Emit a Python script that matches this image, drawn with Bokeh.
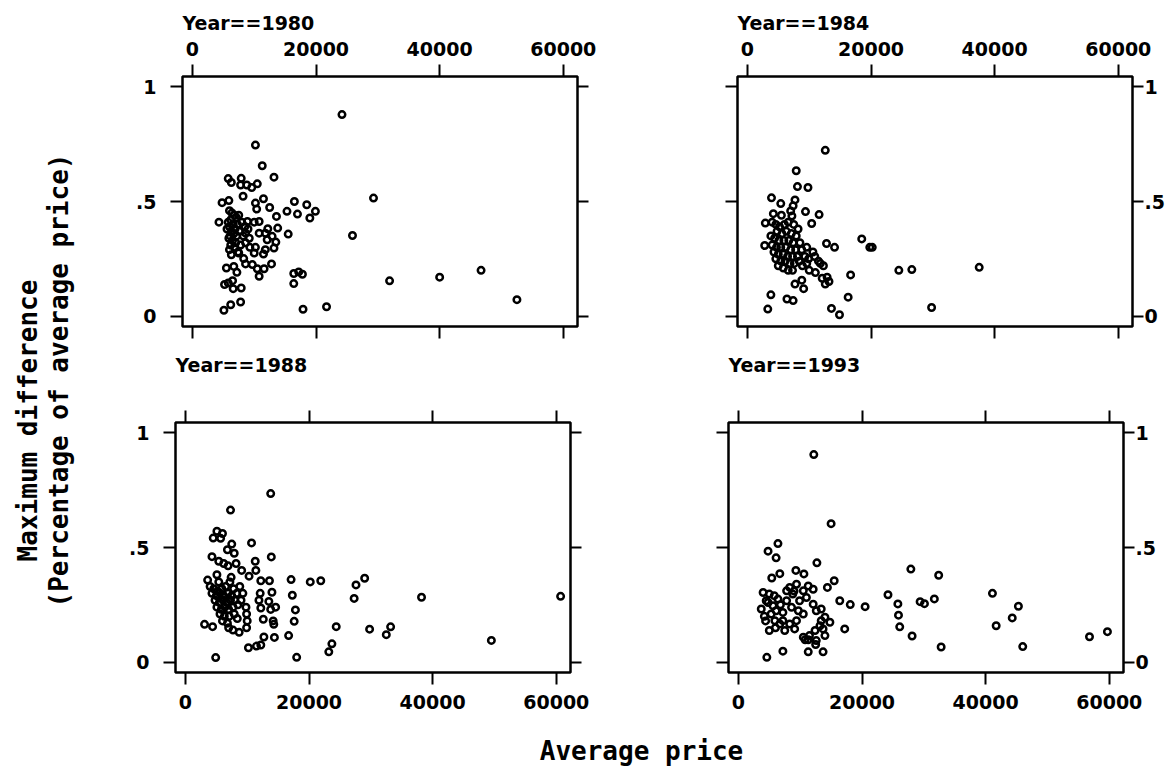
import math
from bokeh.plotting import figure
from bokeh.models import Range1d, LinearAxis, FixedTicker, Label
from bokeh.layouts import row, column
from bokeh.embed import file_html
from bokeh.resources import INLINE

# ---------------- data ----------------
x_ticks = [0, 20000, 40000, 60000]
x_tick_labels = ["0", "20000", "40000", "60000"]
y_ticks = [0, 0.5, 1]
y_tick_labels = ["0", ".5", "1"]
panel_titles = ["Year==1980", "Year==1984", "Year==1988", "Year==1993"]
y_title_lines = ["Maximum difference", "(Percentage of average price)"]
x_title = "Average price"

price_1980 = [24200, 10200, 11300, 13200, 5800, 6300, 7900, 7800, 8800, 9600,
              10500, 8200, 4800, 5900, 11500, 10200, 10400, 12500, 13600, 16500,
              18500, 15300, 17000, 19000, 19900, 29300, 4300, 8900, 10000, 10800,
              8500, 8600, 12200, 13800, 10800, 11800, 12900, 15500, 25900, 12100,
              13500, 13200, 11800, 10200, 9300, 11500, 10000, 6300, 7500, 8300,
              9700, 8600, 12800, 11600, 10500, 10800, 5500, 6700, 7200, 16400,
              17200, 17800, 16400, 5200, 5800, 6500, 6600, 7900, 31900, 40000,
              46700, 52500, 7800, 6200, 5100, 17900, 21700,
              6000, 6400, 6800, 7100, 6200, 5800, 6600, 7300, 6000, 6900,
              5600, 6300, 7600, 6700, 6100, 7200, 5900, 6500, 7000, 6200,
              7800, 6800, 6000, 7400, 8000, 8200, 7500, 8600, 9000, 9200]
maxdiff_1980 = [0.879, 0.746, 0.656, 0.606, 0.600, 0.583, 0.601, 0.572, 0.572, 0.561,
                0.577, 0.523, 0.495, 0.504, 0.512, 0.493, 0.467, 0.474, 0.435, 0.500,
                0.486, 0.457, 0.445, 0.428, 0.457, 0.515, 0.410, 0.413, 0.410, 0.413,
                0.391, 0.362, 0.381, 0.384, 0.362, 0.362, 0.348, 0.358, 0.352, 0.333,
                0.323, 0.297, 0.290, 0.300, 0.300, 0.271, 0.275, 0.268, 0.275, 0.251,
                0.225, 0.228, 0.228, 0.207, 0.207, 0.174, 0.210, 0.217, 0.191, 0.186,
                0.193, 0.183, 0.142, 0.138, 0.145, 0.155, 0.120, 0.123, 0.154, 0.170,
                0.200, 0.072, 0.062, 0.050, 0.026, 0.030, 0.041,
                0.46, 0.45, 0.44, 0.43, 0.42, 0.41, 0.40, 0.40, 0.39, 0.38,
                0.38, 0.37, 0.37, 0.36, 0.35, 0.35, 0.34, 0.33, 0.32, 0.31,
                0.31, 0.30, 0.29, 0.28, 0.41, 0.35, 0.44, 0.32, 0.38, 0.34]

price_1984 = [12600, 7900, 8100, 9800, 3900, 5400, 7700, 7400, 7000, 9400,
              11600, 10400, 4200, 2900, 5500, 7200, 2800, 12800, 14100, 18500,
              20200, 19800, 24500, 26600, 37500, 16700, 16300, 13600, 14900, 29800,
              3800, 6400, 7400, 3300, 7700, 9100, 8800, 13200, 11800, 12100,
              11500, 12300, 10600, 9900, 10900, 8900, 10000, 11000, 12600, 12900,
              4000, 4600, 5200, 6000, 6600, 7500, 8200, 4800, 5600, 6300,
              7100, 7900, 3800, 4400, 5100, 5900, 6700, 7400, 8500, 4000,
              4700, 5400, 6200, 7000, 7800, 8800, 9600, 4300, 5000, 5800,
              6500, 7300, 8100, 4600, 5400, 6100, 6900, 7600, 8400, 5000,
              5800, 6600, 7300, 9300, 9600]
maxdiff_1984 = [0.723, 0.634, 0.565, 0.561, 0.516, 0.491, 0.507, 0.481, 0.459, 0.456,
                0.443, 0.404, 0.447, 0.406, 0.440, 0.437, 0.308, 0.317, 0.300, 0.337,
                0.300, 0.300, 0.200, 0.203, 0.213, 0.180, 0.083, 0.034, 0.006, 0.038,
                0.093, 0.075, 0.068, 0.031, 0.140, 0.120, 0.157, 0.151, 0.230, 0.165,
                0.240, 0.220, 0.280, 0.250, 0.260, 0.220, 0.200, 0.190, 0.140, 0.170,
                0.41, 0.40, 0.39, 0.40, 0.41, 0.40, 0.38, 0.37, 0.36, 0.37,
                0.36, 0.35, 0.35, 0.34, 0.33, 0.33, 0.33, 0.32, 0.32, 0.31,
                0.30, 0.30, 0.30, 0.29, 0.29, 0.29, 0.30, 0.28, 0.27, 0.27,
                0.26, 0.26, 0.26, 0.25, 0.24, 0.24, 0.23, 0.23, 0.24, 0.22,
                0.21, 0.20, 0.20, 0.26, 0.23]

price_1988 = [13800, 7300, 5100, 6000, 4500, 5700, 10700, 7500, 6800, 7900,
              4300, 5400, 6200, 13900, 11300, 8200, 6900, 9100, 11400, 10300,
              3600, 5100, 5400, 7400, 7200, 8800, 12200, 13600, 17100, 20200,
              21900, 14000, 17300, 27600, 29000, 27300, 38200, 60700, 12100, 11900,
              13500, 14600, 13800, 12200, 17800, 17600, 9800, 9900, 10000, 9900,
              14200, 14300, 12600, 24400, 3100, 4400, 7000, 7700, 8700, 14400,
              16700, 12700, 12200, 11500, 10200, 23700, 23200, 4900, 18000, 29800,
              33200, 32500, 49500,
              4000, 4600, 5200, 5900, 6500, 7800, 4300, 5000, 5600, 6200,
              6900, 7500, 8300, 4800, 5500, 6100, 6700, 7300, 8000, 5100,
              5800, 6400, 7000, 7700, 8500, 5600, 6300, 7100, 7900, 6000,
              6800, 8400, 9000, 9300]
maxdiff_1988 = [0.735, 0.663, 0.571, 0.561, 0.541, 0.540, 0.520, 0.515, 0.490, 0.475,
                0.460, 0.440, 0.430, 0.459, 0.440, 0.430, 0.420, 0.400, 0.400, 0.375,
                0.358, 0.381, 0.350, 0.370, 0.350, 0.330, 0.355, 0.355, 0.360, 0.350,
                0.355, 0.305, 0.292, 0.337, 0.366, 0.278, 0.283, 0.287, 0.300, 0.270,
                0.265, 0.240, 0.230, 0.236, 0.228, 0.178, 0.240, 0.210, 0.180, 0.150,
                0.180, 0.165, 0.187, 0.155, 0.165, 0.155, 0.150, 0.140, 0.130, 0.108,
                0.116, 0.110, 0.075, 0.070, 0.063, 0.080, 0.045, 0.020, 0.021, 0.144,
                0.154, 0.120, 0.095,
                0.33, 0.32, 0.31, 0.32, 0.33, 0.32, 0.30, 0.29, 0.30, 0.29,
                0.30, 0.29, 0.30, 0.27, 0.26, 0.27, 0.26, 0.27, 0.27, 0.24,
                0.23, 0.24, 0.23, 0.24, 0.25, 0.21, 0.20, 0.20, 0.21, 0.18,
                0.17, 0.19, 0.27, 0.30]

price_1993 = [12200, 15000, 6400, 4800, 6100, 12700, 9300, 10600, 27900, 32400,
              15500, 14400, 6700, 5400, 41100, 16400, 18100, 20500, 24200, 25800,
              29400, 30100, 31700, 45300, 25900, 44300, 41700, 46000, 56800, 59700,
              32800, 28100, 26100, 17200, 4600, 7200, 11300, 13700, 11300, 12500,
              10800,
              4000, 4500, 3700, 5000, 5300, 5900, 6700, 8300, 9400, 10500,
              11000, 7800, 8600, 9700, 10500, 9100, 7500, 12600, 13400, 14000,
              14800, 13200, 13700, 12400, 11500, 14000, 10500, 5000, 6100, 7200,
              12100, 4800, 6400, 5600, 8800, 9900, 11300, 12100, 7800, 7200,
              8300, 9400, 12600, 13400, 4200, 5800, 6800, 4400, 6000, 9000]
maxdiff_1993 = [0.905, 0.604, 0.517, 0.484, 0.455, 0.433, 0.400, 0.385, 0.406, 0.379,
                0.355, 0.326, 0.386, 0.367, 0.300, 0.268, 0.251, 0.242, 0.294, 0.254,
                0.264, 0.255, 0.276, 0.244, 0.205, 0.193, 0.159, 0.068, 0.111, 0.133,
                0.066, 0.114, 0.154, 0.145, 0.021, 0.048, 0.045, 0.045, 0.098, 0.077,
                0.098,
                0.304, 0.268, 0.232, 0.297, 0.210, 0.181, 0.167, 0.326, 0.340, 0.311,
                0.282, 0.268, 0.239, 0.224, 0.210, 0.145, 0.138, 0.224, 0.232, 0.196,
                0.174, 0.159, 0.145, 0.138, 0.116, 0.116, 0.109, 0.138, 0.224, 0.217,
                0.253, 0.260, 0.275, 0.246, 0.297, 0.268, 0.332, 0.318, 0.311, 0.181,
                0.167, 0.181, 0.094, 0.181, 0.200, 0.290, 0.250, 0.180, 0.150, 0.310]

panel_data = [(price_1980, maxdiff_1980), (price_1984, maxdiff_1984),
              (price_1988, maxdiff_1988), (price_1993, maxdiff_1993)]

TICK_FONT = "DejaVu Sans"
TICK_SIZE = "19px"
TITLE_FONT = "DejaVu Sans Mono"
X_RANGE = (-1600, 62300)
Y_RANGE = (-0.045, 1.045)


def make_axis(ticks, labels, mode, tick_out=12, standoff=6):
    """mode: 'show' visible labels; 'space' blank labels that keep their room;
    'none' no labels and no room."""
    ax = LinearAxis(ticker=FixedTicker(ticks=ticks))
    ax.axis_line_color = None
    ax.major_tick_line_color = "black"
    ax.major_tick_line_width = 2
    ax.major_tick_out = tick_out
    ax.major_tick_in = 0
    ax.minor_tick_line_color = None
    ax.major_label_text_font = TICK_FONT
    ax.major_label_text_font_style = "bold"
    ax.major_label_text_color = "black"
    if mode == "show":
        ax.major_label_overrides = dict(zip(ticks, labels))
        ax.major_label_text_font_size = TICK_SIZE
        ax.major_label_standoff = standoff
    elif mode == "space":
        ax.major_label_overrides = {t: " " for t in ticks}
        ax.major_label_text_font_size = TICK_SIZE
        ax.major_label_standoff = standoff
    else:
        ax.major_label_overrides = {t: "" for t in ticks}
        ax.major_label_text_font_size = "0px"
        ax.major_label_standoff = 0
    return ax


def make_panel(xs, ys, title, top, top_standoff, bottom, left, right, mb):
    p = figure(frame_width=395, frame_height=250,
               x_range=Range1d(*X_RANGE), y_range=Range1d(*Y_RANGE),
               x_axis_location=None, y_axis_location=None,
               toolbar_location=None, output_backend="svg",
               title=title, title_location="above",
               min_border_left=mb[0], min_border_right=mb[1],
               min_border_top=mb[2], min_border_bottom=mb[3])
    for g in p.grid:
        g.visible = False
    p.outline_line_color = "black"
    p.outline_line_width = 2.5
    p.background_fill_color = "white"
    p.border_fill_color = "white"

    p.title.align = "left"
    p.title.standoff = 10
    p.title.offset = 0
    p.title.text_font = TICK_FONT
    p.title.text_font_style = "bold"
    p.title.text_font_size = TICK_SIZE
    p.title.text_color = "black"

    p.add_layout(make_axis(x_ticks, x_tick_labels, top, standoff=top_standoff), "above")
    p.add_layout(make_axis(x_ticks, x_tick_labels, bottom, standoff=10), "below")
    p.add_layout(make_axis(y_ticks, y_tick_labels, left, standoff=14), "left")
    p.add_layout(make_axis(y_ticks, y_tick_labels, right, tick_out=11, standoff=1), "right")

    p.scatter(x=xs, y=ys, marker="circle", size=6.5, line_width=2.5,
              line_color="black", fill_color=None)
    return p


#                                                 top   stoff bottom  left    right   (left right top bottom)
p1 = make_panel(*panel_data[0], panel_titles[0], "show", 9, "none", "show", "none", (64, 38, 76, 19))
p2 = make_panel(*panel_data[1], panel_titles[1], "show", 9, "none", "none", "show", (122, 36, 76, 19))
p3 = make_panel(*panel_data[2], panel_titles[2], "space", 5, "show", "show", "none", (57, 40, 77, 50))
p4 = make_panel(*panel_data[3], panel_titles[3], "space", 5, "show", "none", "show", (118, 45, 77, 50))

# y-axis title strip (x 0..118, y 0..773)
ylab = figure(width=118, height=773, x_range=Range1d(0, 118), y_range=Range1d(0, 773),
              x_axis_location=None, y_axis_location=None, toolbar_location=None,
              output_backend="svg", min_border=0, title_location=None)
ylab.outline_line_color = None
for g in ylab.grid:
    g.visible = False
ylab.add_layout(Label(x=27, y=773 - 420, text=y_title_lines[0], angle=math.pi / 2,
                      text_align="center", text_baseline="middle",
                      text_font=TITLE_FONT, text_font_style="bold",
                      text_font_size="26px", text_color="black"))
ylab.add_layout(Label(x=58, y=773 - 380, text=y_title_lines[1], angle=math.pi / 2,
                      text_align="center", text_baseline="middle",
                      text_font=TITLE_FONT, text_font_style="bold",
                      text_font_size="26px", text_color="black"))

# x-axis title strip (x 118..1168, bottom of the page)
xlab = figure(width=1050, height=49, x_range=Range1d(0, 1050), y_range=Range1d(0, 49),
              x_axis_location=None, y_axis_location=None, toolbar_location=None,
              output_backend="svg", min_border=0, title_location=None)
xlab.outline_line_color = None
for g in xlab.grid:
    g.visible = False
xlab.add_layout(Label(x=641 - 118, y=21, text=x_title, text_align="center",
                      text_baseline="middle", text_font=TITLE_FONT,
                      text_font_style="bold", text_font_size="26px",
                      text_color="black"))

layout = row(ylab, column(row(p1, p2), row(p3, p4), xlab))

with open("out.html", "w") as f:
    f.write(file_html(layout, INLINE))
